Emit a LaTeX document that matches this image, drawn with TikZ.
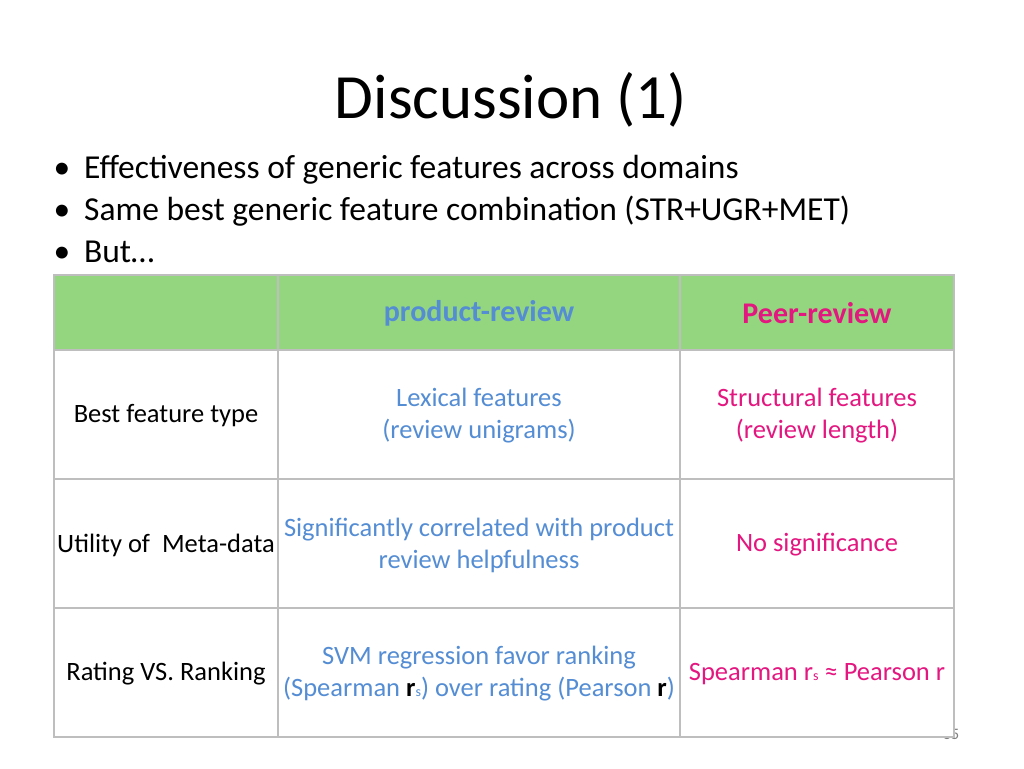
\documentclass[tikz,border=0pt]{standalone}
\usepackage{fontspec}
\setmainfont{Carlito}
\usetikzlibrary{positioning}
\definecolor{hdrgreen}{RGB}{148,214,128}
\definecolor{prodblue}{RGB}{84,141,212}
\definecolor{peerpink}{RGB}{228,22,128}
\definecolor{gridgray}{RGB}{190,190,190}
\begin{document}
\begin{tikzpicture}[x=1pt, y=-1pt,
    cell/.style={align=center, font=\fontsize{26.5}{32}\selectfont},
    prod/.style={cell, text=prodblue},
    peer/.style={cell, text=peerpink},
    bullet/.style={anchor=base west, font=\fontsize{33.5}{36}\selectfont}
]
\useasboundingbox (0,0) rectangle (1024,768);

% Title and bullets
\node[font=\fontsize{63}{70}\selectfont] (title) at (511,100) {Discussion (1)};
\node[bullet] (b1) at (50,178) {\textbullet\hspace{14pt}Effectiveness of generic features across domains};
\node[bullet] (b2) at (50,220) {\textbullet\hspace{14pt}Same best generic feature combination (STR+UGR+MET)};
\node[bullet] (b3) at (50,262) {\textbullet\hspace{14pt}But\dots};

% Page number
\node[font=\fontsize{16}{18}\selectfont, text=gray] (page) at (951,734) {35};

% Table
\fill[white] (54,350) rectangle (954,737);
\fill[hdrgreen] (54,275) rectangle (954,350);
\draw[gridgray, line width=1.2pt] (54,275) rectangle (954,737);
\foreach \y in {350,479,608} \draw[gridgray, line width=1.2pt] (54,\y) -- (954,\y);
\foreach \x in {278,680} \draw[gridgray, line width=1.2pt] (\x,275) -- (\x,737);

% Header
\node[prod, font=\fontsize{30}{34}\selectfont\bfseries] (hprod) at (479,313) {product-review};
\node[peer, font=\fontsize{30}{34}\selectfont\bfseries] (hpeer) at (817,313) {Peer-review};

% Row 1
\node[cell] (r1) at (166,416) {Best feature type};
\node[prod] (p1) at (479,416) {Lexical features\\(review unigrams)};
\node[peer] (q1) at (817,416) {Structural features\\(review length)};

% Row 2
\node[cell] (r2) at (166,545) {Utility of\ \ Meta-data};
\node[prod] (p2) at (479,545) {Significantly correlated with product\\review helpfulness};
\node[peer] (q2) at (817,545) {No significance};

% Row 3
\node[cell] (r3) at (166,674) {Rating VS. Ranking};
\node[prod, inner xsep=0pt] (p3) at (479,674) {SVM regression favor ranking\\(Spearman \textbf{\textcolor{black}{r}}{\fontsize{14}{16}\selectfont s}) over rating (Pearson \textbf{\textcolor{black}{r}})};
\node[peer] (q3) at (817,674) {Spearman r{\fontsize{14}{16}\selectfont s} ≈ Pearson r};
\end{tikzpicture}
\end{document}
